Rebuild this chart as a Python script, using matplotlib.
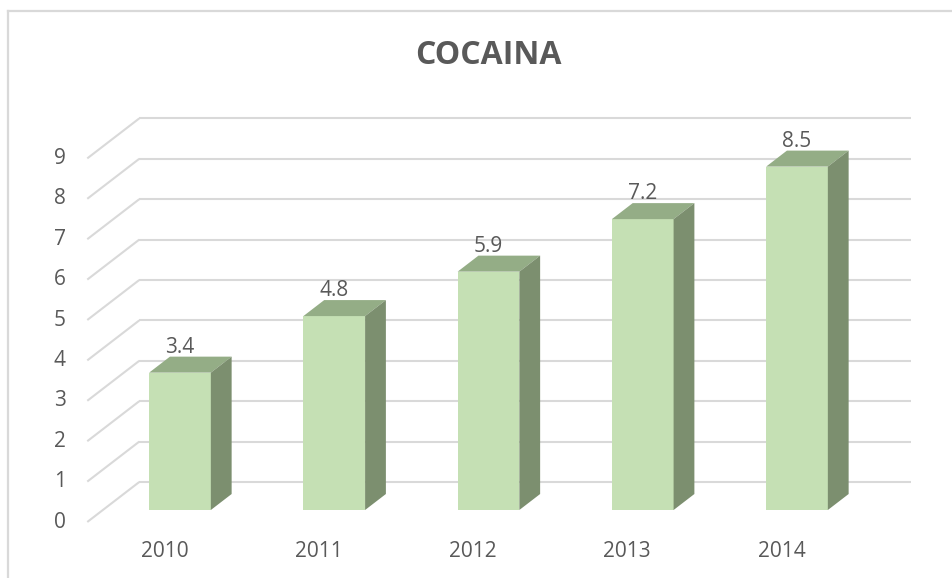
import matplotlib
matplotlib.use("Agg")
import matplotlib.pyplot as plt
from matplotlib.patches import Polygon
from matplotlib.lines import Line2D

# Data
years = ["2010", "2011", "2012", "2013", "2014"]
values = [3.4, 4.8, 5.9, 7.2, 8.5]
y_ticks = [0, 1, 2, 3, 4, 5, 6, 7, 8, 9]
title = "COCAINA"

# Styling
FRONT = "#C5E0B4"
TOP = "#94AD86"
SIDE = "#7C8F6F"
GRID = "#D9D9D9"
TEXT = "#595959"
plt.rcParams["font.family"] = ["Open Sans", "DejaVu Sans"]

W, H, DPI = 953, 578, 100
fig = plt.figure(figsize=(W / DPI, H / DPI), dpi=DPI)
fig.patch.set_facecolor("white")

# Oblique projection of the depth axis (in data units)
DX, DY = 0.337, 0.99        # full floor depth
F0, FD = 0.30, 0.40         # bar front offset and bar depth (fractions of floor depth)
BW = 0.40                   # bar width

# Axes covering the whole figure, linear mapping of category index / value
ax = fig.add_axes([0, 0, 1, 1])
px_x0, px_step = 164.4, 154.25
px_y0, px_unit = 522.0, 40.4
ax.set_xlim(-px_x0 / px_step, (W - px_x0) / px_step)
ax.set_ylim((px_y0 - H) / px_unit, px_y0 / px_unit)
ax.axis("off")

n = len(years)
xl, xr = -0.5, n - 0.5

# Side wall and back wall gridlines
for v in y_ticks:
    ax.plot([xl, xl + DX], [v, v + DY], color=GRID, lw=1.5, zorder=1,
            solid_capstyle="butt")
    ax.plot([xl + DX, xr + DX], [v + DY, v + DY], color=GRID, lw=1.5, zorder=1,
            solid_capstyle="butt")

# Value axis labels
for v in y_ticks:
    ax.text(xl - 0.14, v, str(v), ha="right", va="center", fontsize=15,
            color=TEXT)

# 3D-looking columns
for i, (yr, v) in enumerate(zip(years, values)):
    cx = i + F0 * DX
    y0 = F0 * DY
    ax.bar(cx, v, width=BW, bottom=y0, color=FRONT, edgecolor="none",
           zorder=3)
    x0, x1 = cx - BW / 2, cx + BW / 2
    y1 = y0 + v
    ddx, ddy = FD * DX, FD * DY
    top = Polygon([(x0, y1), (x1, y1), (x1 + ddx, y1 + ddy), (x0 + ddx, y1 + ddy)],
                  closed=True, facecolor=TOP, edgecolor="none", zorder=3)
    side = Polygon([(x1, y0), (x1, y1), (x1 + ddx, y1 + ddy), (x1 + ddx, y0 + ddy)],
                   closed=True, facecolor=SIDE, edgecolor="none", zorder=3)
    ax.add_patch(top)
    ax.add_patch(side)
    ax.text(cx, y1 + ddy + 0.09, f"{v:.1f}", ha="center", va="baseline",
            fontsize=15, color=TEXT, zorder=4)
    ax.text(i, -0.72, yr, ha="center", va="center", fontsize=15, color=TEXT)

# Title
fig.text(0.512, 1 - 56 / H, title, ha="center", va="center", fontsize=23,
         fontweight="bold", color=TEXT)

# Chart frame (top and left edges)
fig.add_artist(Line2D([8 / W, 8 / W], [0, 1 - 11 / H], color=GRID, lw=1.6,
                      transform=fig.transFigure))
fig.add_artist(Line2D([8 / W, 1], [1 - 11 / H, 1 - 11 / H], color=GRID, lw=1.6,
                      transform=fig.transFigure))

fig.savefig("out.png", dpi=DPI, facecolor="white")
